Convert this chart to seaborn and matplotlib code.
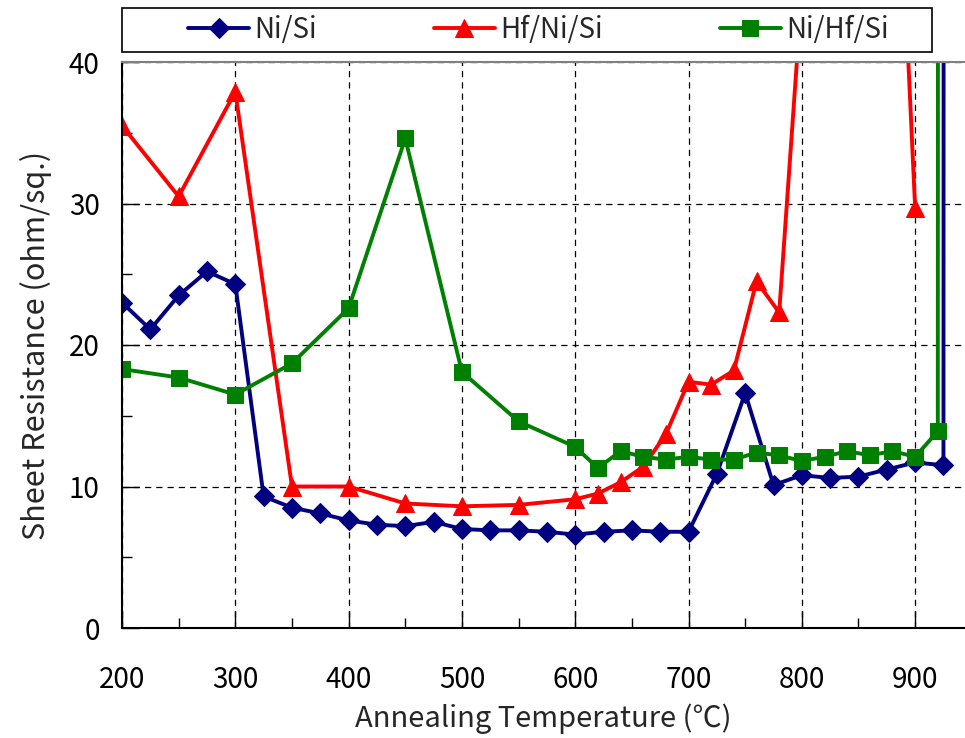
import matplotlib
matplotlib.use('Agg')
import seaborn as sns
import matplotlib.pyplot as plt
from matplotlib.ticker import MultipleLocator
from matplotlib.patches import Rectangle

# Ni/Si
ni_si_temp = [200, 225, 250, 275, 300, 325, 350, 375, 400, 425, 450, 475, 500, 525, 550,
              575, 600, 625, 650, 675, 700, 725, 750, 775, 800, 825, 850, 875, 900, 925, 927]
ni_si_res = [23.0, 21.1, 23.5, 25.2, 24.3, 9.3, 8.5, 8.1, 7.6, 7.3, 7.2, 7.5, 7.0, 6.9, 6.9,
             6.8, 6.6, 6.8, 6.9, 6.8, 6.8, 10.9, 16.6, 10.1, 10.8, 10.6, 10.7, 11.2, 11.7, 11.5, 500]

# Hf/Ni/Si
hf_ni_si_temp = [200, 250, 300, 350, 400, 450, 500, 550, 600, 620, 640, 660, 680, 700,
                 720, 740, 760, 780, 800, 880, 900]
hf_ni_si_res = [35.5, 30.5, 37.9, 10.0, 10.0, 8.8, 8.6, 8.7, 9.1, 9.5, 10.3, 11.4, 13.7, 17.4,
                17.2, 18.2, 24.5, 22.3, 45.0, 64.0, 29.7]

# Ni/Hf/Si
ni_hf_si_temp = [200, 250, 300, 350, 400, 450, 500, 550, 600, 620, 640, 660, 680, 700,
                 720, 740, 760, 780, 800, 820, 840, 860, 880, 900, 920, 922]
ni_hf_si_res = [18.3, 17.7, 16.5, 18.7, 22.6, 34.6, 18.1, 14.6, 12.8, 11.3, 12.5, 12.1, 11.9, 12.1,
                11.9, 11.9, 12.4, 12.2, 11.8, 12.1, 12.5, 12.2, 12.5, 12.1, 13.9, 500]

sns.set_style('ticks')
plt.rcParams['font.family'] = ['Noto Sans CJK JP', 'DejaVu Sans']

fig = plt.figure(figsize=(9.65, 7.38), dpi=100)
ax = fig.add_axes([122 / 965, 1 - 628 / 738, 1 - 122 / 965, (628 - 62) / 738])

sns.lineplot(x=ni_si_temp, y=ni_si_res, color='#000080', marker='D', markeredgecolor='#000080',
             markersize=10.5, linewidth=2.8, sort=False, label='Ni/Si', ax=ax)
sns.lineplot(x=hf_ni_si_temp, y=hf_ni_si_res, color='#ff0000', marker='^', markeredgecolor='#ff0000',
             markersize=13.5, linewidth=2.8, sort=False, label='Hf/Ni/Si', ax=ax)
sns.lineplot(x=ni_hf_si_temp, y=ni_hf_si_res, color='#008000', marker='s', markeredgecolor='#008000',
             markersize=11.5, linewidth=2.8, sort=False, label='Ni/Hf/Si', ax=ax)

ax.set_xlim(200, 944)
ax.set_ylim(0, 40)
ax.xaxis.set_major_locator(MultipleLocator(100))
ax.xaxis.set_minor_locator(MultipleLocator(50))
ax.yaxis.set_major_locator(MultipleLocator(10))
ax.yaxis.set_minor_locator(MultipleLocator(5))
ax.tick_params(which='both', direction='in', labelsize=20, colors='black')
ax.tick_params(which='major', length=12, width=1)
ax.tick_params(which='minor', length=7, width=1)
ax.tick_params(axis='x', pad=27)
ax.tick_params(axis='y', pad=16)
ax.grid(True, which='major', color='black', linestyle=(0, (5, 4)), linewidth=0.9)

for side in ['left', 'bottom']:
    ax.spines[side].set_color('black')
    ax.spines[side].set_linewidth(1.5)
ax.spines['top'].set_color('#808080')
ax.spines['top'].set_linewidth(1.5)
ax.spines['right'].set_visible(False)

ax.set_xlabel('Annealing Temperature (℃)', fontsize=21, labelpad=6)
ax.set_ylabel('Sheet Resistance (ohm/sq.)', fontsize=22, labelpad=12)

# legend box across the top
fig.patches.append(Rectangle((122 / 965, 1 - 52 / 738), (932 - 122) / 965, 44 / 738,
                             transform=fig.transFigure, fill=False, edgecolor='black',
                             linewidth=1.2))
handles, labels = ax.get_legend_handles_labels()
ax.get_legend().remove()
fig.legend(handles, labels, ncol=3, loc='center',
           bbox_to_anchor=((122 + 932) / 2 / 965 + 0.012, 1 - 30 / 738),
           fontsize=20, frameon=False, handlelength=2.2, handletextpad=0.2,
           columnspacing=4.2, borderaxespad=0)

plt.savefig('out.png', dpi=100)
